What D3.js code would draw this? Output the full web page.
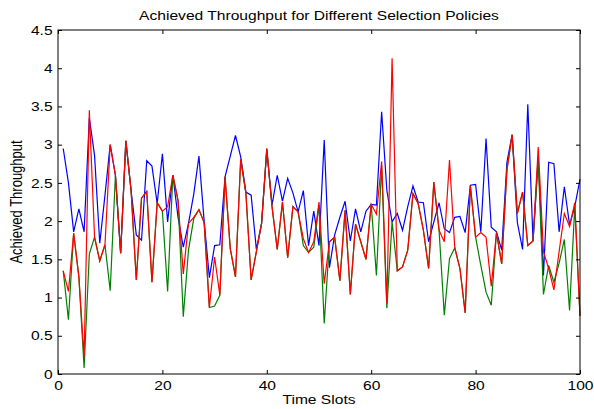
<!DOCTYPE html>
<html>
<head>
<meta charset="utf-8">
<script src="https://cdn.jsdelivr.net/npm/d3@7"></script>
<style>
  html, body { margin: 0; padding: 0; background: #fff; }
  text { font-family: "Liberation Sans", Arial, sans-serif; fill: #000; }
</style>
</head>
<body>
<div id="chart"></div>
<script>
// time slots 1..100
const slots = d3.range(1, 101);

const blueVals = [
  2.95, 2.5, 1.86, 2.16, 1.86, 3.35, 2.86, 1.71, 2.34, 3.0,
  2.6, 1.58, 3.05, 2.4, 1.82, 1.75, 2.79, 2.72, 2.23, 2.88,
  1.99, 2.6, 2.05, 1.66, 1.97, 2.35, 2.85, 2.0, 1.26, 1.68,
  1.69, 2.58, 2.85, 3.12, 2.84, 2.38, 2.34, 1.63, 1.97, 2.93,
  2.21, 2.6, 2.26, 2.56, 2.37, 2.12, 2.4, 1.68, 2.13, 1.68,
  3.06, 1.39, 1.82, 2.05, 2.26, 1.74, 2.16, 1.86, 2.13, 2.22,
  2.21, 3.43, 2.4, 1.99, 2.1, 1.88, 2.19, 2.46, 2.25, 2.24,
  1.73, 1.99, 2.24, 1.9, 1.85, 2.05, 2.06, 1.85, 2.47, 2.48,
  1.86, 3.08, 1.92, 1.86, 1.62, 2.77, 3.13, 1.98, 1.63, 3.53,
  1.74, 2.85, 1.29, 2.77, 2.75, 1.86, 2.45, 1.95, 2.19, 2.55
];

const redVals = [
  1.35, 1.08, 1.84, 1.27, 0.22, 3.45, 1.79, 1.48, 1.69, 3.0,
  2.6, 1.58, 3.05, 2.4, 1.23, 2.3, 2.39, 1.2, 2.24, 2.13,
  2.19, 2.6, 2.27, 1.31, 1.97, 2.05, 2.15, 1.98, 0.87, 1.53,
  1.03, 2.58, 1.64, 1.27, 2.81, 2.36, 1.23, 1.6, 1.97, 2.95,
  2.19, 1.63, 2.25, 1.52, 2.19, 2.12, 1.77, 1.59, 1.73, 2.25,
  1.18, 1.73, 1.79, 1.22, 2.14, 1.04, 1.96, 1.73, 1.5, 2.22,
  2.09, 2.78, 0.92, 4.13, 1.35, 1.4, 1.62, 2.36, 2.23, 1.88,
  1.38, 2.51, 1.88, 1.73, 2.8, 1.66, 1.38, 0.8, 2.46, 1.79,
  1.85, 1.79, 1.15, 1.85, 1.44, 2.67, 3.13, 2.1, 2.38, 1.68,
  1.74, 2.97, 1.6, 1.38, 1.1, 1.6, 2.1, 1.93, 2.24, 0.76
];

const greenVals = [
  1.35, 0.71, 1.84, 1.27, 0.08, 1.57, 1.79, 1.48, 1.69, 1.09,
  2.6, 1.58, 3.05, 2.4, 1.23, 2.3, 2.39, 1.2, 2.24, 2.13,
  1.08, 2.6, 2.27, 0.75, 1.62, 2.03, 2.15, 1.98, 0.87, 0.89,
  1.03, 2.58, 1.64, 1.27, 2.81, 2.36, 1.23, 1.6, 1.97, 2.95,
  2.19, 1.63, 2.25, 1.52, 2.19, 2.12, 1.68, 1.59, 1.66, 2.21,
  0.66, 1.73, 1.79, 1.22, 2.14, 1.04, 1.96, 1.73, 1.5, 2.22,
  1.29, 2.73, 0.86, 1.99, 1.35, 1.4, 1.62, 2.36, 2.23, 1.88,
  1.38, 2.51, 1.88, 0.77, 1.51, 1.65, 1.38, 0.8, 2.46, 1.79,
  1.42, 1.07, 0.9, 1.85, 1.44, 2.67, 3.13, 2.1, 2.38, 1.68,
  1.74, 2.78, 1.04, 1.42, 1.2, 1.45, 1.76, 0.83, 2.2, 0.76
];

const xTicks = [0, 20, 40, 60, 80, 100];
const yTicks = [0, 0.5, 1, 1.5, 2, 2.5, 3, 3.5, 4, 4.5];

const width = 594;
const height = 409;
const plotLeft = 58, plotRight = 580, plotTop = 30, plotBottom = 374;
const sx = 1.2; // text in the picture is a bit wide

const svg = d3.select('#chart')
    .append('svg')
    .attr('width', width)
    .attr('height', height);

const xScale = d3.scaleLinear().domain([0, 100]).range([plotLeft, plotRight]);
const yScale = d3.scaleLinear().domain([0, 4.5]).range([plotBottom, plotTop]);

// lines: blue, green, red (red on top)
const series = [
  { vals: blueVals, color: '#0000ff' },
  { vals: greenVals, color: '#008000' },
  { vals: redVals, color: '#ff0000' }
];

const line = d3.line()
    .x((d, i) => xScale(slots[i]))
    .y(d => yScale(d));

svg.selectAll('path.series')
    .data(series)
    .enter()
    .append('path')
    .attr('class', 'series')
    .attr('d', d => line(d.vals))
    .attr('fill', 'none')
    .attr('stroke', d => d.color)
    .attr('stroke-width', 1.2)
    .attr('stroke-linejoin', 'miter');

// axes with inward ticks
const xAxis = svg.append('g')
    .attr('transform', `translate(0,${plotBottom})`)
    .call(d3.axisBottom(xScale).tickValues(xTicks).tickSize(-4).tickPadding(7));
xAxis.selectAll('text')
    .attr('font-size', 13)
    .attr('transform', `scale(${sx},1)`);

const yAxis = svg.append('g')
    .attr('transform', `translate(${plotLeft},0)`)
    .call(d3.axisLeft(yScale).tickValues(yTicks).tickSize(-4).tickPadding(4.5)
        .tickFormat(d => String(d)));
yAxis.selectAll('text')
    .attr('font-size', 13)
    .attr('transform', `scale(${sx},1)`);

svg.append('g')
    .attr('transform', `translate(0,${plotTop})`)
    .call(d3.axisTop(xScale).tickValues(xTicks).tickSize(-4).tickFormat(''));

svg.append('g')
    .attr('transform', `translate(${plotRight},0)`)
    .call(d3.axisRight(yScale).tickValues(yTicks).tickSize(-4).tickFormat(''));

svg.selectAll('.domain').remove();
svg.selectAll('.tick line').attr('stroke', '#000');

svg.append('rect')
    .attr('x', plotLeft)
    .attr('y', plotTop)
    .attr('width', plotRight - plotLeft)
    .attr('height', plotBottom - plotTop)
    .attr('fill', 'none')
    .attr('stroke', '#000')
    .attr('stroke-width', 1);

// title and axis labels
svg.append('text')
    .attr('transform', `translate(${(plotLeft + plotRight) / 2},20) scale(${sx},1)`)
    .attr('text-anchor', 'middle')
    .attr('font-size', 13)
    .text('Achieved Throughput for Different Selection Policies');

svg.append('text')
    .attr('transform', `translate(${(plotLeft + plotRight) / 2},404) scale(${sx},1)`)
    .attr('text-anchor', 'middle')
    .attr('font-size', 13)
    .text('Time Slots');

svg.append('text')
    .attr('transform', `translate(22,${(plotTop + plotBottom) / 2}) scale(${sx},1) rotate(-90)`)
    .attr('text-anchor', 'middle')
    .attr('font-size', 13)
    .text('Achieved Throughput');
</script>
</body>
</html>
